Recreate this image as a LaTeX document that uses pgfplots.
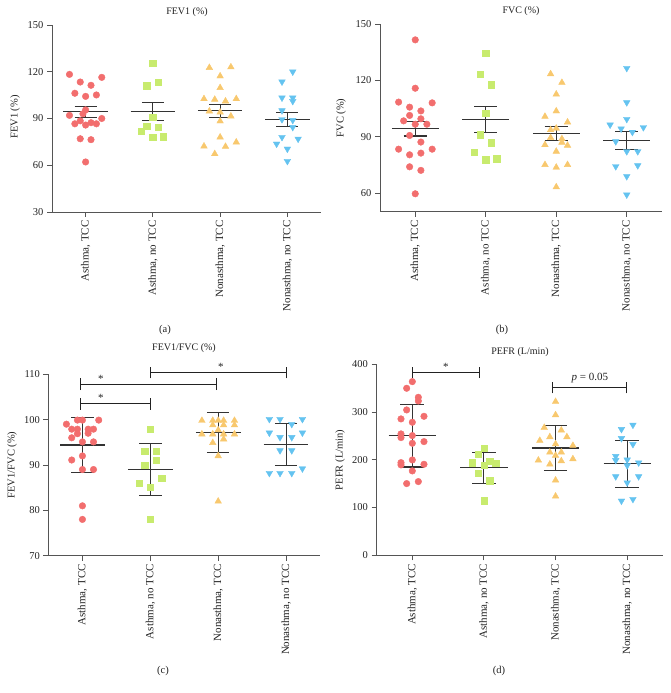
\documentclass[border=0pt]{standalone}
\usepackage{fontspec}
\setmainfont{Liberation Serif}
\usepackage{pgfplots}
\pgfplotsset{compat=1.18}
\definecolor{cred}{HTML}{F26E6E}
\definecolor{cgreen}{HTML}{C8EB6E}
\definecolor{corange}{HTML}{F8C86E}
\definecolor{cblue}{HTML}{64C3F0}
\definecolor{axc}{HTML}{555555}
\definecolor{meanc}{HTML}{333333}
\definecolor{txt}{HTML}{222222}
\pgfplotsset{
  panel/.style={
    scale only axis, anchor=south west,
    axis x line=bottom, axis y line=left,
    axis line style={-, draw=axc, line width=0.9pt},
    every tick/.style={draw=axc, line width=0.9pt},
    tick align=outside, major tick length=5pt,
    xmin=-0.5, xmax=3.5, xtick={0,1,2,3},
    xticklabels={{Asthma, TCC},{Asthma, no TCC},{Nonasthma, TCC},{Nonasthma, no TCC}},
    x tick label style={rotate=90, anchor=east, font=\fontsize{11}{12}\selectfont, text=txt},
    y tick label style={font=\fontsize{10.5}{12}\selectfont, text=txt},
    /pgf/number format/assume math mode=true,
    clip=false, unbounded coords=jump,
  },
  pR/.style={only marks, mark=*, mark size=3.3pt, color=cred},
  pG/.style={only marks, mark=square*, mark size=3.2pt, color=cgreen},
  pO/.style={only marks, mark=triangle*, mark size=3.8pt, color=corange},
  pB/.style={only marks, mark=triangle*, mark size=3.8pt, color=cblue, mark options={rotate=180}},
  meanline/.style={meanc, line width=1.1pt, mark=none},
  brk/.style={txt, line width=0.8pt, mark=none},
}
\begin{document}
\begin{tikzpicture}
\useasboundingbox (0,0) rectangle (670pt,693pt);
% ---------------- (a) FEV1
\begin{axis}[panel, at={(52pt,481pt)}, width=269pt, height=187pt,
  ymin=30, ymax=150, ytick={30,60,90,120,150}]
\addplot[pR] coordinates {(-0.24,118.3) (0.24,116.4) (-0.08,113.4) (0.08,111.3) (-0.16,106.2) (0,104.2) (0.16,105.1) (0,95.5) (-0.24,92) (-0.04,93) (0.24,90) (-0.16,86.6) (-0.08,88.5) (0,85.8) (0.08,87.3) (0.16,86.6) (-0.08,77) (0.08,76.4) (0,62.1)};
\addplot[pG] coordinates {(1,125.4) (0.91,111) (1.075,113.4) (1,90.9) (0.91,85.1) (1.075,84.6) (0.83,81.9) (1,78) (1.155,78.4)};
\addplot[pO] coordinates {(1.84,122.6) (2.16,123) (2,117.2) (2,109.7) (1.76,102.6) (1.92,102.2) (2.08,101.1) (2.24,102.6) (1.84,94.7) (2,94) (2.16,91.5) (2,88.3) (2,78) (1.76,72.2) (2.08,72) (2.24,74.8) (1.92,67.3)};
\addplot[pB] coordinates {(2.92,113.6) (3.08,120) (2.92,103.3) (3.08,103.3) (3.08,101.1) (2.92,95.1) (2.92,89.4) (3.08,88.9) (3.08,84.4) (2.92,78) (3.16,76.9) (2.84,73.7) (3,70.5) (3,62.6)};
\addplot[meanline] coordinates {
 (-0.33,94.3) (0.33,94.3) (0,nan) (-0.165,97.5) (0.165,97.5) (0,nan) (-0.165,90.6) (0.165,90.6) (0,nan) (0,90.6) (0,97.5) (0,nan)
 (0.67,94.3) (1.33,94.3) (1,nan) (0.835,100.1) (1.165,100.1) (1,nan) (0.835,88.5) (1.165,88.5) (1,nan) (1,88.5) (1,100.1) (1,nan)
 (1.67,94.9) (2.33,94.9) (2,nan) (1.835,99.0) (2.165,99.0) (2,nan) (1.835,90.6) (2.165,90.6) (2,nan) (2,90.6) (2,99.0) (2,nan)
 (2.67,89.4) (3.33,89.4) (3,nan) (2.835,93.9) (3.165,93.9) (3,nan) (2.835,84.9) (3.165,84.9) (3,nan) (3,84.9) (3,93.9)
};
\end{axis}
% ---------------- (b) FVC
\begin{axis}[panel, at={(380pt,481.2pt)}, width=282pt, height=187.5pt,
  ymin=50, ymax=150, ytick={60,90,120,150}]
\addplot[pR] coordinates {(0,141.7) (0,115.9) (-0.236,108.5) (0.24,108.1) (-0.08,105.8) (0.08,103.8) (-0.08,101.4) (-0.165,98.5) (0,96.7) (0.08,99.6) (0.165,96.7) (-0.08,90.7) (0.08,87.2) (-0.236,83.4) (0.24,83.4) (-0.08,80.4) (0.08,81.3) (-0.08,74.0) (0.08,72.1) (0,59.6)};
\addplot[pG] coordinates {(1,134.6) (0.92,123.4) (1.08,117.7) (1,102.6) (0.92,91.1) (1.08,86.8) (0.84,81.8) (1,77.7) (1.156,78.3)};
\addplot[pO] coordinates {(1.92,123.5) (2.08,118.9) (2,112.7) (2,103.7) (1.84,100.8) (2.16,97.8) (1.92,93.7) (2,94.5) (1.92,89.5) (2.08,88.9) (1.84,85.7) (2.16,85.4) (2.08,87) (2,82.2) (1.84,75.1) (2.16,75.1) (2,73.7) (2,63.2)};
\addplot[pB] coordinates {(3,126.6) (3,108.3) (3,99.4) (2.764,96.4) (2.92,94.3) (3.08,92.5) (3.236,95.0) (2.844,87.5) (3,82.2) (3.156,82.2) (2.844,74.2) (3.156,74.7) (3,68.9) (3,59.1)};
\addplot[meanline] coordinates {
 (-0.33,94.4) (0.33,94.4) (0,nan) (-0.165,98.3) (0.165,98.3) (0,nan) (-0.165,90.4) (0.165,90.4) (0,nan) (0,90.4) (0,98.3) (0,nan)
 (0.67,99.4) (1.33,99.4) (1,nan) (0.835,106.3) (1.165,106.3) (1,nan) (0.835,92.3) (1.165,92.3) (1,nan) (1,92.3) (1,106.3) (1,nan)
 (1.67,91.8) (2.33,91.8) (2,nan) (1.835,95.7) (2.165,95.7) (2,nan) (1.835,87.9) (2.165,87.9) (2,nan) (2,87.9) (2,95.7) (2,nan)
 (2.67,88.0) (3.33,88.0) (3,nan) (2.835,92.7) (3.165,92.7) (3,nan) (2.835,83.4) (3.165,83.4) (3,nan) (3,83.4) (3,92.7)
};
\end{axis}
% ---------------- (c) FEV1/FVC
\begin{axis}[panel, at={(48.5pt,137.3pt)}, width=271.5pt, height=181.4pt,
  ymin=70, ymax=110, ytick={70,80,90,100,110}]
\addplot[pR] coordinates {(-0.236,99.0) (-0.074,99.9) (0,99.9) (0.24,99.9) (-0.158,97.9) (-0.074,97.9) (0.084,97.9) (0.163,97.9) (-0.074,96.9) (0.084,97.0) (-0.158,96.0) (0,95.1) (0.163,95.1) (0,92) (-0.158,91.1) (0,89) (0.163,89) (0,81) (0,78)};
\addplot[pG] coordinates {(1,97.9) (0.916,93.0) (1.084,93.0) (1.084,91.1) (0.916,90.0) (1.167,87.1) (0.837,86.0) (1,85.1) (1,78.0)};
\addplot[pO] coordinates {(1.76,99.8) (1.92,99.8) (2,99.8) (2.08,99.8) (2.24,99.8) (1.92,98.8) (2.08,98.8) (2.24,98.8) (2,97.7) (1.76,96.8) (1.92,96.8) (2.08,96.8) (2.24,96.8) (1.92,94.9) (2.08,95.7) (2,92) (2,82)};
\addplot[pB] coordinates {(2.754,100.1) (2.911,100.1) (3.241,100.1) (3.084,99.0) (2.754,97.1) (3.241,97.1) (2.911,96.1) (3.084,96.1) (2.911,93.2) (3.084,93.2) (2.754,88.2) (2.911,88.2) (3.084,88.2) (3.241,89.2)};
\addplot[meanline] coordinates {
 (-0.33,94.4) (0.33,94.4) (0,nan) (-0.165,100.5) (0.165,100.5) (0,nan) (-0.165,88.3) (0.165,88.3) (0,nan) (0,88.3) (0,100.5) (0,nan)
 (0.67,89.0) (1.33,89.0) (1,nan) (0.835,94.8) (1.165,94.8) (1,nan) (0.835,83.3) (1.165,83.3) (1,nan) (1,83.3) (1,94.8) (1,nan)
 (1.67,97.2) (2.33,97.2) (2,nan) (1.835,101.5) (2.165,101.5) (2,nan) (1.835,92.8) (2.165,92.8) (2,nan) (2,92.8) (2,101.5) (2,nan)
 (2.67,94.6) (3.33,94.6) (3,nan) (2.835,99.2) (3.165,99.2) (3,nan) (2.835,89.9) (3.165,89.9) (3,nan) (3,89.9) (3,99.2)
};
\addplot[brk] coordinates {
 (-0.03,102.2) (-0.03,104.8) (0,nan) (-0.03,103.5) (1,103.5) (0,nan) (1,102.2) (1,104.8) (0,nan)
 (-0.03,106.5) (-0.03,109.1) (0,nan) (-0.03,107.8) (1.98,107.8) (0,nan) (1.98,106.5) (1.98,109.1) (0,nan)
 (1,109.1) (1,111.7) (0,nan) (1,110.4) (3,110.4) (0,nan) (3,109.1) (3,111.7)
};
\node[txt, font=\fontsize{11}{12}\selectfont, inner sep=0pt, anchor=south] at (axis cs:0.27,103.9) {*};
\node[txt, font=\fontsize{11}{12}\selectfont, inner sep=0pt, anchor=south] at (axis cs:0.27,108.2) {*};
\node[txt, font=\fontsize{11}{12}\selectfont, inner sep=0pt, anchor=south] at (axis cs:2.04,110.8) {*};
\end{axis}
% ---------------- (d) PEFR
\begin{axis}[panel, at={(376.5pt,137.7pt)}, width=286.5pt, height=191pt,
  ymin=0, ymax=400, ytick={0,100,200,300,400}]
\addplot[pR] coordinates {(0,363.7) (-0.079,349.8) (0.084,330.9) (0.084,323.2) (-0.079,304.4) (-0.158,285.6) (0.163,291.1) (0,278.6) (-0.158,254.2) (-0.158,246.5) (0,250.7) (0.163,238.1) (0,234.6) (0,199.7) (-0.158,194.1) (-0.158,189.3) (0.163,190.6) (0,176.7) (0.084,154.4) (-0.079,150.2)};
\addplot[pG] coordinates {(1,224.1) (0.921,211.6) (0.837,194.1) (1.079,197.6) (1.163,192.7) (1,189.3) (0.921,171.8) (1.079,156.4) (1,114.6)};
\addplot[pO] coordinates {(2,321.8) (2,293.9) (1.842,267.4) (2.08,262) (2.158,247.9) (1.92,247.9) (1.78,240.2) (2.242,229.7) (2,233) (1.92,215.8) (2.08,215.8) (2,209) (1.76,199) (2.242,201.8) (1.92,190.6) (2.08,197.6) (2,157.2) (2,123.6)};
\addplot[pB] coordinates {(3.08,273) (2.92,264) (2.92,245) (3.08,232.5) (2.84,207.5) (2.84,199) (3,200) (3.16,194) (3,188) (2.84,165) (3.16,165) (3,152) (2.92,114) (3.08,117.5)};
\addplot[meanline] coordinates {
 (-0.33,250) (0.33,250) (0,nan) (-0.165,314.9) (0.165,314.9) (0,nan) (-0.165,185) (0.165,185) (0,nan) (0,185) (0,314.9) (0,nan)
 (0.67,183.7) (1.33,183.7) (1,nan) (0.835,215.8) (1.165,215.8) (1,nan) (0.835,150.9) (1.165,150.9) (1,nan) (1,150.9) (1,215.8) (1,nan)
 (1.67,224.8) (2.33,224.8) (2,nan) (1.835,272.3) (2.165,272.3) (2,nan) (1.835,178.1) (2.165,178.1) (2,nan) (2,178.1) (2,272.3) (2,nan)
 (2.67,192.0) (3.33,192.0) (3,nan) (2.835,240.2) (3.165,240.2) (3,nan) (2.835,142.5) (3.165,142.5) (3,nan) (3,142.5) (3,240.2)
};
\addplot[brk] coordinates {
 (0,371.3) (0,395.3) (0,nan) (0,383.3) (0.93,383.3) (0,nan) (0.93,371.3) (0.93,395.3) (0,nan)
 (1.96,339.2) (1.96,363.2) (0,nan) (1.96,351.2) (2.99,351.2) (0,nan) (2.99,339.2) (2.99,363.2)
};
\node[txt, font=\fontsize{11}{12}\selectfont, inner sep=0pt, anchor=south] at (axis cs:0.47,386) {*};
\node[txt, font=\fontsize{11}{12}\selectfont] at (axis cs:2.48,370.7) {\textit{p} = 0.05};
\end{axis}
% ---------------- titles, labels
\begin{scope}[every node/.style={text=txt, font=\fontsize{10}{12}\selectfont}]
\node at (187pt,681pt) {FEV1 (\%)};
\node at (521pt,682pt) {FVC (\%)};
\node at (184pt,345pt) {FEV1/FVC (\%)};
\node at (520pt,341pt) {PEFR (L/min)};
\node[rotate=90, font=\fontsize{10.5}{12}\selectfont] at (15pt,576pt) {FEV1 (\%)};
\node[rotate=90, font=\fontsize{10.5}{12}\selectfont] at (341pt,575pt) {FVC (\%)};
\node[rotate=90, font=\fontsize{10.5}{12}\selectfont] at (12pt,228pt) {FEV1/FVC (\%)};
\node[rotate=90, font=\fontsize{10.5}{12}\selectfont] at (340pt,233pt) {PEFR (L/min)};
\node[font=\fontsize{10.5}{12}\selectfont] at (165pt,363pt) {(a)};
\node[font=\fontsize{10.5}{12}\selectfont] at (502pt,363pt) {(b)};
\node[font=\fontsize{10.5}{12}\selectfont] at (163pt,22pt) {(c)};
\node[font=\fontsize{10.5}{12}\selectfont] at (499pt,22pt) {(d)};
\end{scope}
\end{tikzpicture}
\end{document}
